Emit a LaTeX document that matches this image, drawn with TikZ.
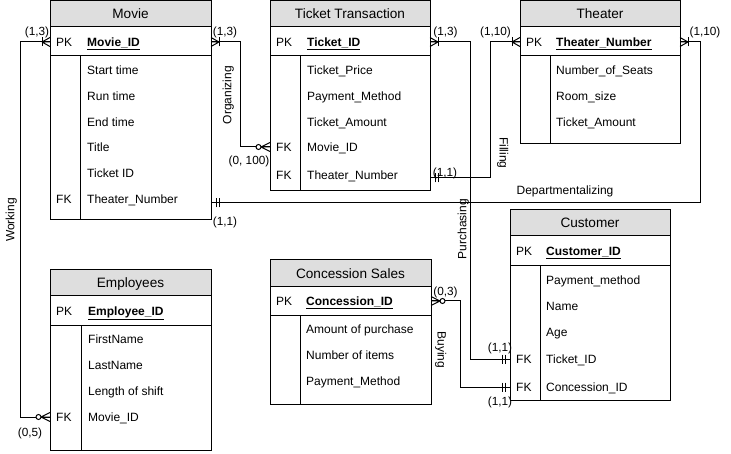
\documentclass[tikz,border=0pt]{standalone}
\usepackage{fontspec}
\setmainfont{Liberation Sans}
\definecolor{hdrgray}{HTML}{DEDEDE}
\newcommand\erfs{\fontsize{12}{14}\selectfont}
\newcommand\ertf{\fontsize{13.6}{16}\selectfont}
\newcommand\ercf{\fontsize{11.8}{14}\selectfont}
% table: #1 left, #2 top, #3 right, #4 bottom, #5 header bottom, #6 pk bottom, #7 divider
\newcommand\ertable[7]{%
  \fill[hdrgray] (#1,#2) rectangle (#3,#5);
  \draw[tline] (#1,#2) rectangle (#3,#4);
  \draw[tline] (#1,#5) -- (#3,#5) (#1,#6) -- (#3,#6) (#7,#6) -- (#7,#4);
}
\newcommand\ercrow[2]{\begin{scope}[shift={(#1)},rotate=#2]\draw[conn] (-8,0) -- (0,-4.5) (-8,0) -- (0,0) (-8,0) -- (0,4.5);\end{scope}}
\newcommand\eronemany[2]{\ercrow{#1}{#2}\begin{scope}[shift={(#1)},rotate=#2]\draw[conn] (-8,-4.5) -- (-8,4.5);\end{scope}}
\newcommand\erzeromany[2]{\begin{scope}[shift={(#1)},rotate=#2]\draw[conn] (-9,0) -- (0,-4.5) (-9,0) -- (0,0) (-9,0) -- (0,4.5);\draw[conn,fill=white] (-11.5,0) circle[radius=2.5];\end{scope}}
\newcommand\ermandone[2]{\begin{scope}[shift={(#1)},rotate=#2]\draw[conn] (-5,-4.5) -- (-5,4.5) (-8,-4.5) -- (-8,4.5);\end{scope}}
\tikzset{
  tline/.style={line width=1pt},
  conn/.style={line width=1pt},
  fld/.style={anchor=west, inner sep=0pt, font=\erfs, text height=8.6pt, text depth=0pt},
  ttl/.style={inner sep=0pt, font=\ertf, text height=9.6pt, text depth=0pt},
  card/.style={inner sep=0pt, font=\ercf, text height=8.5pt, text depth=0pt},
  rel/.style={inner sep=0pt, font=\erfs, text height=8.6pt, text depth=0pt},
}
\begin{document}
\begin{tikzpicture}[x=1pt,y=-1pt]
\useasboundingbox (0,0) rectangle (731,454);
% ---------- tables ----------
\ertable{50}{0.5}{211}{219.5}{27}{56}{80}
\ertable{270}{0.5}{430}{191}{27}{56}{300}
\ertable{520}{0.5}{680}{144}{27}{56}{550}
\ertable{50}{270}{211}{450}{296}{326}{81}
\ertable{270}{260}{431}{404}{287}{316}{300}
\ertable{510}{210}{670}{400}{236}{266}{540}
% Movie
\node[ttl] (mvt) at (130.5,14) {Movie};
\node[fld] (mvpk) at (56,42) {PK};
\node[fld] (mvid) at (87,42) {\textbf{\underline{Movie\_ID}}};
\node[fld] (mv1) at (87,70) {Start time};
\node[fld] (mv2) at (87,96) {Run time};
\node[fld] (mv3) at (87,122) {End time};
\node[fld] (mv4) at (87,147) {Title};
\node[fld] (mv5) at (87,173) {Ticket ID};
\node[fld] (mvfk) at (56,199) {FK};
\node[fld] (mv6) at (87,199) {Theater\_Number};
% Ticket Transaction
\node[ttl] (tkt) at (350,14) {Ticket Transaction};
\node[fld] (tkpk) at (276,42) {PK};
\node[fld] (tkid) at (307,42) {\textbf{\underline{Ticket\_ID}}};
\node[fld] (tk1) at (307,70) {Ticket\_Price};
\node[fld] (tk2) at (307,96) {Payment\_Method};
\node[fld] (tk3) at (307,122) {Ticket\_Amount};
\node[fld] (tkfk1) at (276,147) {FK};
\node[fld] (tk4) at (307,147) {Movie\_ID};
\node[fld] (tkfk2) at (276,175) {FK};
\node[fld] (tk5) at (307,175) {Theater\_Number};
% Theater
\node[ttl] (tht) at (600,14) {Theater};
\node[fld] (thpk) at (526,42) {PK};
\node[fld] (thid) at (556,42) {\textbf{\underline{Theater\_Number}}};
\node[fld] (th1) at (556,70) {Number\_of\_Seats};
\node[fld] (th2) at (556,96) {Room\_size};
\node[fld] (th3) at (556,122) {Ticket\_Amount};
% Employees
\node[ttl] (emt) at (130.5,283) {Employees};
\node[fld] (empk) at (56,311) {PK};
\node[fld] (emid) at (88,311) {\textbf{\underline{Employee\_ID}}};
\node[fld] (em1) at (88,339) {FirstName};
\node[fld] (em2) at (88,365) {LastName};
\node[fld] (em3) at (88,391) {Length of shift};
\node[fld] (emfk) at (56,417) {FK};
\node[fld] (em4) at (88,417) {Movie\_ID};
% Concession Sales
\node[ttl] (cst) at (350.5,273.5) {Concession Sales};
\node[fld] (cspk) at (276,301) {PK};
\node[fld] (csid) at (306,301) {\textbf{\underline{Concession\_ID}}};
\node[fld] (cs1) at (306,329) {Amount of purchase};
\node[fld] (cs2) at (306,355) {Number of items};
\node[fld] (cs3) at (306,381) {Payment\_Method};
% Customer
\node[ttl] (cut) at (590,223) {Customer};
\node[fld] (cupk) at (516,251) {PK};
\node[fld] (cuid) at (546,251) {\textbf{\underline{Customer\_ID}}};
\node[fld] (cu1) at (546,280) {Payment\_method};
\node[fld] (cu2) at (546,306) {Name};
\node[fld] (cu3) at (546,332) {Age};
\node[fld] (cufk1) at (516,359) {FK};
\node[fld] (cu4) at (546,359) {Ticket\_ID};
\node[fld] (cufk2) at (516,387) {FK};
\node[fld] (cu5) at (546,387) {Concession\_ID};
% ---------- connection points ----------
\coordinate (mvw) at (50,42);
\coordinate (mve) at (211,42);
\coordinate (mvth) at (211,203);
\coordinate (emmv) at (50,417);
\coordinate (tkmv) at (270,147);
\coordinate (tke) at (430,42);
\coordinate (tkth) at (430,178);
\coordinate (thw) at (520,42);
\coordinate (the) at (680,42);
\coordinate (cse) at (431,301);
\coordinate (cutk) at (510,359);
\coordinate (cucs) at (510,387);
% ---------- connectors ----------
\draw[conn] (mvw) -- ++(-30,0) |- (emmv);
\draw[conn] (mve) -- ++(29,0) |- (tkmv);
\draw[conn] (mvth) -- ++(489,0) |- (the);
\draw[conn] (tkth) -- ++(60,0) |- (thw);
\draw[conn] (tke) -- ++(40,0) |- (cutk);
\draw[conn] (cse) -- ++(29,0) |- (cucs);
% ---------- end markers ----------
\eronemany{mvw}{0}
\erzeromany{emmv}{0}
\eronemany{mve}{180}
\erzeromany{tkmv}{0}
\ermandone{mvth}{180}
\eronemany{the}{180}
\ermandone{tkth}{180}
\eronemany{thw}{0}
\eronemany{tke}{180}
\ermandone{cutk}{0}
\erzeromany{cse}{180}
\ermandone{cucs}{0}
% ---------- relationship labels ----------
\node[rel, rotate=90] (lwork) at (10,220) {Working};
\node[rel, rotate=90] (lorg) at (227,95) {Organizing};
\node[rel, rotate=90] (lpur) at (462,229) {Purchasing};
\node[rel, rotate=-90] (lfill) at (504,153) {Filling};
\node[rel, rotate=-90] (lbuy) at (442,350) {Buying};
\node[rel] (ldep) at (565,190) {Departmentalizing};
% ---------- cardinalities ----------
\node[card] (c1) at (37,31) {(1,3)};
\node[card] (c2) at (30,432) {(0,5)};
\node[card] (c3) at (225,31) {(1,3)};
\node[card] (c4) at (249,160) {(0, 100)};
\node[card] (c5) at (225,221) {(1,1)};
\node[card] (c6) at (705,31) {(1,10)};
\node[card] (c7) at (445.5,31) {(1,3)};
\node[card] (c8) at (495.5,31) {(1,10)};
\node[card] (c9) at (445,172) {(1,1)};
\node[card] (c10) at (500,347) {(1,1)};
\node[card] (c11) at (500,401) {(1,1)};
\node[card] (c12) at (445.5,291) {(0,3)};
\end{tikzpicture}
\end{document}
